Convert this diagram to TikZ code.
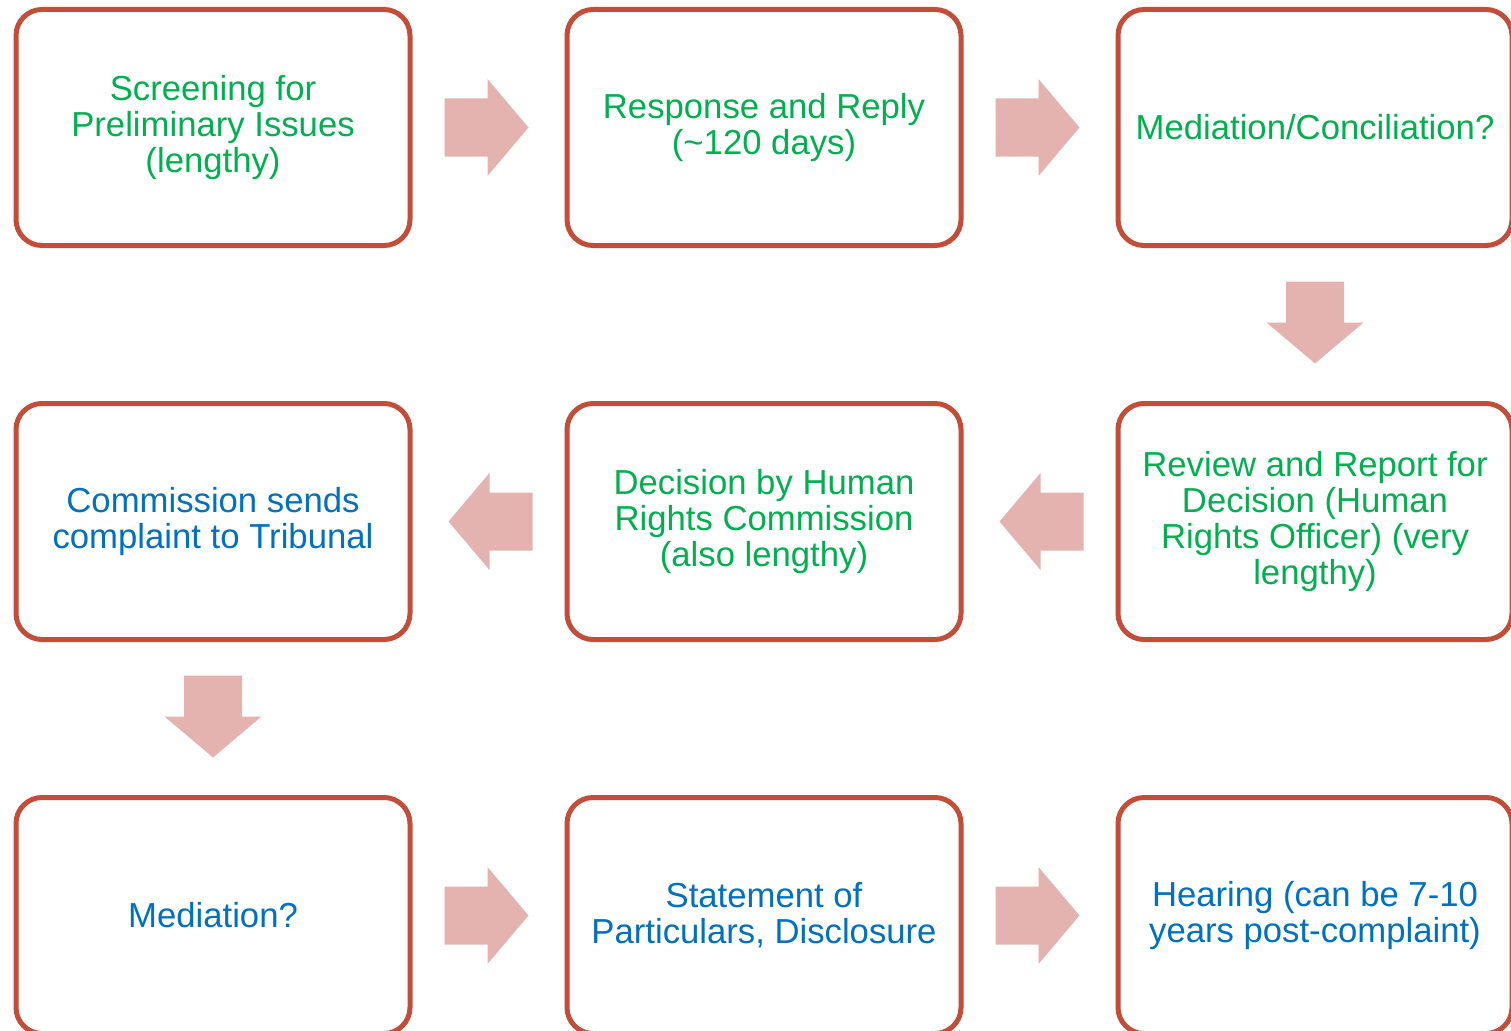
\documentclass[tikz,border=0pt]{standalone}
\usepackage{fontspec}
\setmainfont{Liberation Sans}
\usetikzlibrary{calc}
\definecolor{boxred}{HTML}{C24E3A}
\definecolor{arrowpink}{HTML}{E4B3B0}
\definecolor{txtgreen}{HTML}{00B050}
\definecolor{txtblue}{HTML}{0070C0}
\begin{document}
\begin{tikzpicture}[x=1pt,y=-1pt,
  stage/.style={draw=boxred, line width=5pt, rounded corners=26pt, fill=white,
    minimum width=394pt, minimum height=236pt, inner sep=0pt, align=center,
    font=\fontsize{34.7}{36.2}\selectfont},
  greentxt/.style={text=txtgreen},
  bluetxt/.style={text=txtblue},
  rarr/.pic={\fill[arrowpink] (-44,-29) -- (-1,-29) -- (-1,-48.5) -- (40,0) -- (-1,48.5) -- (-1,29) -- (-44,29) -- cycle;},
  larr/.pic={\fill[arrowpink] (44,-29) -- (1,-29) -- (1,-48.5) -- (-40,0) -- (1,48.5) -- (1,29) -- (44,29) -- cycle;},
  darr/.pic={\fill[arrowpink] (-29,-43) -- (29,-43) -- (29,-2) -- (48.5,-2) -- (0,39) -- (-48.5,-2) -- (-29,-2) -- cycle;}
]
\useasboundingbox (0,0) rectangle (1511,1030);
\clip (0,0) rectangle (1511,1030);
\node[stage,greentxt] (b1) at (213,127.5) {Screening for\\Preliminary Issues\\(lengthy)};
\node[stage,greentxt] (b2) at (764,127.5) {Response and Reply\\(\textasciitilde120 days)};
\node[stage,greentxt] (b3) at (1315,127.5) {Mediation/Conciliation?};
\node[stage,greentxt] (b6) at (1315,521.5) {Review and Report for\\Decision (Human\\Rights Officer) (very\\lengthy)};
\node[stage,greentxt] (b5) at (764,521.5) {Decision by Human\\Rights Commission\\(also lengthy)};
\node[stage,bluetxt] (b4) at (213,521.5) {Commission sends\\complaint to Tribunal};
\node[stage,bluetxt] (b7) at (213,915.5) {Mediation?};
\node[stage,bluetxt] (b8) at (764,915.5) {Statement of\\Particulars, Disclosure};
\node[stage,bluetxt] (b9) at (1315,915.5) {Hearing (can be 7-10\\years post-complaint)};
\pic at ($(b1.east)!0.5!(b2.west)$) {rarr};
\pic at ($(b2.east)!0.5!(b3.west)$) {rarr};
\pic at ($(b3.south)!0.5!(b6.north)$) {darr};
\pic at ($(b6.west)!0.5!(b5.east)$) {larr};
\pic at ($(b5.west)!0.5!(b4.east)$) {larr};
\pic at ($(b4.south)!0.5!(b7.north)$) {darr};
\pic at ($(b7.east)!0.5!(b8.west)$) {rarr};
\pic at ($(b8.east)!0.5!(b9.west)$) {rarr};
\end{tikzpicture}
\end{document}
